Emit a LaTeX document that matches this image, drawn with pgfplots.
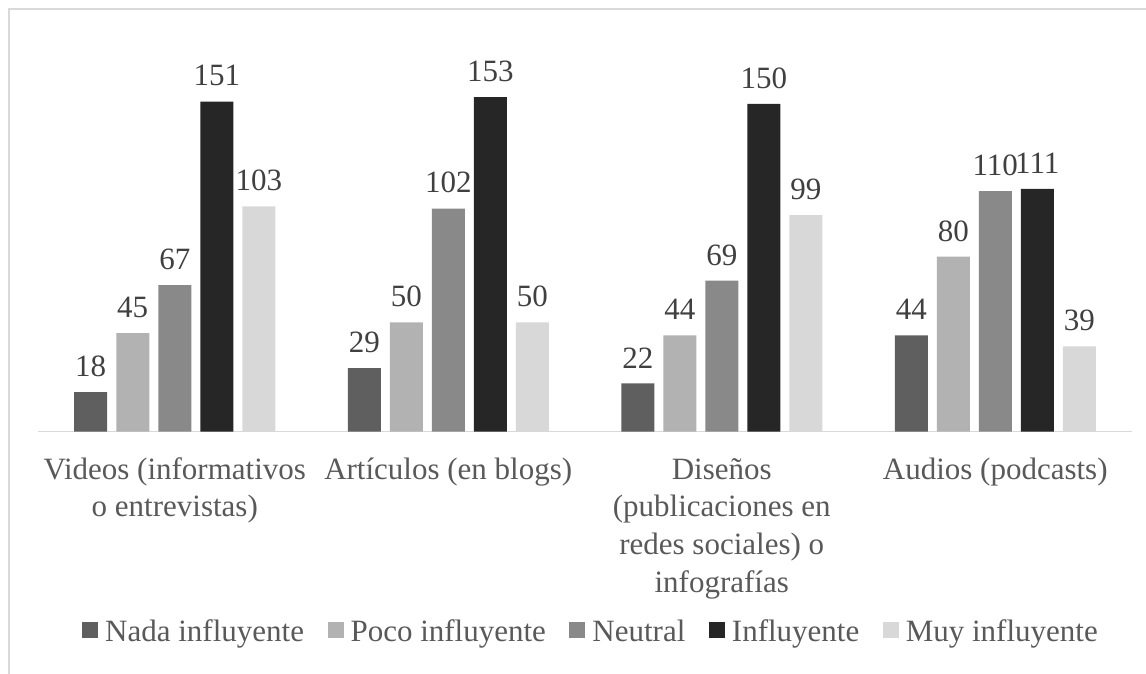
\documentclass[border=0pt]{standalone}
\usepackage{pgfplots}
\pgfplotsset{compat=1.18}
\usepackage{fontspec}
\setmainfont{Liberation Serif}
\definecolor{cNada}{HTML}{5F5F5F}
\definecolor{cPoco}{HTML}{B2B2B2}
\definecolor{cNeutral}{HTML}{898989}
\definecolor{cInfl}{HTML}{262626}
\definecolor{cMuy}{HTML}{D8D8D8}
\definecolor{cText}{HTML}{595959}
\definecolor{cVal}{HTML}{404040}
\definecolor{cLine}{HTML}{D9D9D9}
\begin{document}
\begin{tikzpicture}
\draw[cLine, line width=0.75pt] (4.5pt,-4.5pt) rectangle (620pt,-400pt);
\begin{axis}[
  at={(19pt,-215.75pt)}, anchor=south west,
  scale only axis, width=547pt, height=196.65pt,
  xmin=-0.5, xmax=3.5, ymin=0, ymax=180,
  clip=false,
  ybar=4.5pt, bar width=16.5pt,
  axis x line*=bottom, axis y line=none,
  axis line style={draw=cLine, line width=0.9pt},
  xtick={0,1,2,3}, xtick style={draw=none},
  xticklabels={{\strut Videos (informativos\\o entrevistas)},{\strut Artículos (en blogs)},{\strut Diseños\\(publicaciones en\\redes sociales) o\\infografías},{\strut Audios (podcasts)}},
  xticklabel style={align=center, anchor=north, inner sep=0pt, yshift=-6.3pt, text=cText, font=\fontsize{15.5}{18.8}\selectfont},
  ytick=\empty,
  nodes near coords={\pgfmathprintnumber[assume math mode=true]{\pgfplotspointmeta}},
  every node near coord/.append style={anchor=south, inner sep=0pt, yshift=7.5pt, text=cVal, font=\fontsize{15.5}{19}\selectfont},
  legend columns=5,
  legend style={at={(0.5046,-0.51)}, anchor=center, draw=none, fill=none, inner sep=0pt,
     font=\fontsize{15.5}{19}\selectfont, text=cText,
     nodes={inner xsep=0pt},
     /tikz/every odd column/.append style={column sep=3.5pt},
     /tikz/every even column/.append style={column sep=11.75pt}},
  legend image code/.code={\fill[#1] (0pt,-2.9pt) rectangle (8pt,5.1pt);},
]
\addplot[fill=cNada, draw=none] coordinates {(0,18) (1,29) (2,22) (3,44)};
\addplot[fill=cPoco, draw=none] coordinates {(0,45) (1,50) (2,44) (3,80)};
\addplot[fill=cNeutral, draw=none] coordinates {(0,67) (1,102) (2,69) (3,110)};
\addplot[fill=cInfl, draw=none] coordinates {(0,151) (1,153) (2,150) (3,111)};
\addplot[fill=cMuy, draw=none] coordinates {(0,103) (1,50) (2,99) (3,39)};
\legend{Nada influyente, Poco influyente, Neutral, Influyente, Muy influyente}
\end{axis}
\pgfresetboundingbox
\useasboundingbox (0pt,0pt) rectangle (573pt,-337pt);
\end{tikzpicture}
\end{document}
